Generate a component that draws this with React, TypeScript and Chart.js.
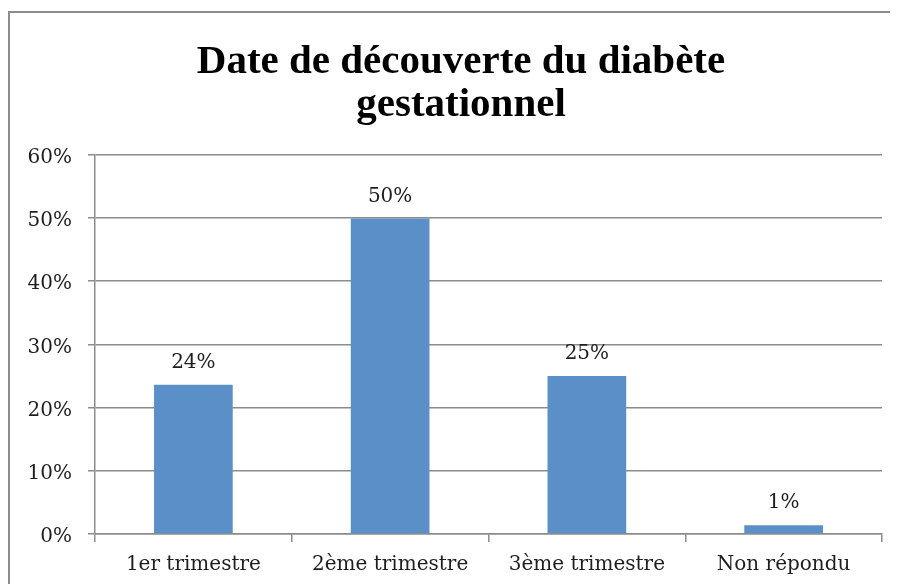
import React, { useEffect, useRef } from "react";
import { Chart, registerables } from "chart.js";

Chart.register(...registerables);

const categories = ["1er trimestre", "2ème trimestre", "3ème trimestre", "Non répondu"];
const values = [23.6, 49.9, 25.0, 1.4];
const titleLines = ["Date de découverte du diabète", "gestationnel"];
const yMin = 0;
const yMax = 60;
const yStep = 10;

const TEXT_FONT = "'DejaVu Serif', 'Liberation Serif', serif";
const TITLE_FONT = "'Liberation Serif', 'DejaVu Serif', serif";
const GRID = "#8c8c8c";
const BAR = "#5b8fc7";

const frame = {
  id: "frame",
  beforeDraw(chart: any) {
    const ctx = chart.ctx;
    ctx.save();
    ctx.fillStyle = "#8c8c8c";
    ctx.fillRect(0, 3, 2, chart.height - 3);
    ctx.fillRect(0, 3, chart.width - 2, 2);
    ctx.restore();
  },
};

const dataLabels = {
  id: "dataLabels",
  afterDatasetsDraw(chart: any) {
    const ctx = chart.ctx;
    const meta = chart.getDatasetMeta(0);
    ctx.save();
    ctx.font = `20px ${TEXT_FONT}`;
    ctx.fillStyle = "#1e1e1e";
    ctx.textAlign = "center";
    ctx.textBaseline = "alphabetic";
    meta.data.forEach((el: any, i: number) => {
      const v = chart.data.datasets[0].data[i] as number;
      ctx.fillText(Math.round(v) + "%", el.x, el.y - 17);
    });
    ctx.restore();
  },
};

export default function App() {
  const ref = useRef<HTMLCanvasElement | null>(null);
  useEffect(() => {
    if (!ref.current) return;
    const chart = new Chart(ref.current, {
      type: "bar",
      data: {
        labels: categories,
        datasets: [
          {
            data: values,
            backgroundColor: BAR,
            borderWidth: 0,
            barPercentage: 0.4,
            categoryPercentage: 1.0,
          },
        ],
      },
      options: {
        responsive: false,
        animation: false,
        layout: { padding: { left: 16, right: 0, top: 0, bottom: 0 } },
        plugins: {
          legend: { display: false },
          tooltip: { enabled: false },
          title: {
            display: true,
            text: titleLines,
            color: "#000",
            font: { family: TITLE_FONT, size: 41, weight: "bold", lineHeight: 1.07 },
            padding: { top: 32, bottom: 27 },
          },
        },
        scales: {
          x: {
            grid: {
              display: true,
              drawOnChartArea: false,
              drawTicks: true,
              tickLength: 8,
              offset: true,
              color: GRID,
              lineWidth: 1.5,
            },
            border: { display: true, color: GRID, width: 1.5 },
            ticks: {
              color: "#1e1e1e",
              font: { family: TEXT_FONT, size: 20 },
              padding: 11,
              maxRotation: 0,
            },
            afterFit: (s: any) => {
              s.height = 50;
            },
          },
          y: {
            min: yMin,
            max: yMax,
            grid: {
              color: GRID,
              lineWidth: 1.5,
              tickLength: 7,
              drawTicks: true,
            },
            border: { display: true, color: GRID, width: 1.5 },
            ticks: {
              stepSize: yStep,
              color: "#1e1e1e",
              font: { family: TEXT_FONT, size: 20 },
              padding: 16,
              labelOffset: 3,
              callback: (v: any) => v + "%",
            },
            afterFit: (s: any) => {
              s.width = 71;
            },
          },
          yR: {
            type: "linear",
            position: "right",
            display: true,
            grid: { display: false },
            border: { display: false },
            ticks: { display: false },
            afterFit: (s: any) => {
              s.width = 16;
            },
          },
        },
      },
      plugins: [frame, dataLabels],
    });
    return () => chart.destroy();
  }, []);

  return (
    <canvas
      ref={ref}
      width={890}
      height={576}
      style={{ display: "block", width: 890, height: 576 }}
    />
  );
}
